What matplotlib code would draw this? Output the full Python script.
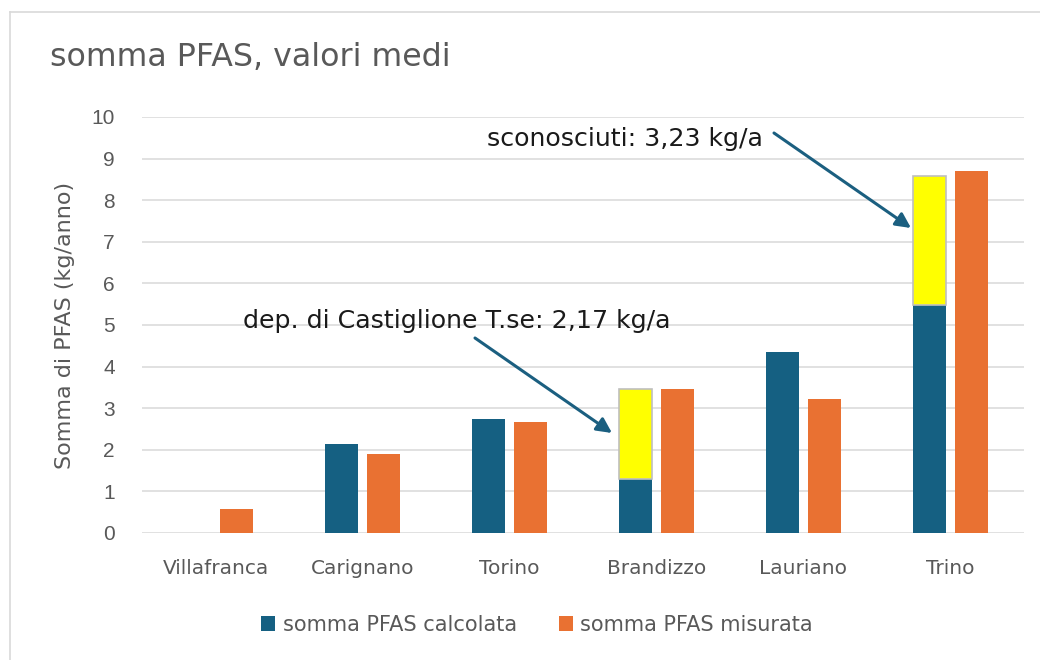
import numpy as np
import matplotlib
matplotlib.use("Agg")
import matplotlib.pyplot as plt
from matplotlib.lines import Line2D

categories = ["Villafranca", "Carignano", "Torino", "Brandizzo", "Lauriano", "Trino"]
calcolata = [0.0, 2.15, 2.73, 1.29, 4.35, 5.47]
sconosciuti = [0.0, 0.0, 0.0, 2.17, 0.0, 3.12]
misurata = [0.57, 1.89, 2.68, 3.46, 3.22, 8.69]
yticks = list(range(0, 11))

BLUE = "#156082"
ORANGE = "#E97132"
YELLOW = "#FFFF00"
GRAY = "#595959"

fig = plt.figure(figsize=(10.4, 6.6), dpi=100)
W, H = 1040, 660
ax = fig.add_axes([142 / W, (H - 533) / H, (1024 - 142) / W, (533 - 117) / H])

x = np.arange(len(categories))
bw = 0.225
off = 0.143

calc = np.array(calcolata)
unk = np.array(sconosciuti)
mis = np.array(misurata)

ax.bar(x - off, calc, bw, color=BLUE, zorder=3, label="somma PFAS calcolata")
m = unk > 0
ax.bar((x - off)[m], unk[m], bw, bottom=calc[m], color=YELLOW,
       edgecolor="#BFBFBF", linewidth=1.2, zorder=3)
ax.bar(x + off, mis, bw, color=ORANGE, zorder=3, label="somma PFAS misurata")

ax.set_xlim(-0.5, len(categories) - 0.5)
ax.set_ylim(0, 10)
ax.set_yticks(yticks)
ax.set_xticks(x)
ax.set_xticklabels(categories, fontsize=14.5, color=GRAY, family="DejaVu Sans")
for lbl in ax.get_yticklabels():
    lbl.set_fontsize(15)
    lbl.set_color(GRAY)
    lbl.set_family("Liberation Sans")
ax.tick_params(axis="both", length=0)
ax.tick_params(axis="y", pad=19.5)
ax.tick_params(axis="x", pad=19)
ax.grid(axis="y", color="#D9D9D9", linewidth=1.1, zorder=0)
for s in ax.spines.values():
    s.set_visible(False)

def px(xp, yp):
    return (xp / W, 1 - yp / H)

# y-axis label
fig.text(*px(65, 325), "Somma di PFAS (kg/anno)", fontsize=16, color=GRAY,
         family="DejaVu Sans", rotation=90, va="center", ha="center")

# title
fig.text(*px(50, 57), "somma PFAS, valori medi", fontsize=22.8, color=GRAY,
         family="DejaVu Sans", va="center", ha="left")

# annotations
fig.text(*px(487, 139), "sconosciuti: 3,23 kg/a", fontsize=18.2, color="#1a1a1a",
         family="DejaVu Sans", va="center", ha="left")
fig.text(*px(243, 321), "dep. di Castiglione T.se: 2,17 kg/a", fontsize=18.2,
         color="#1a1a1a", family="DejaVu Sans", va="center", ha="left")

ax.annotate("", xy=px(911, 228), xycoords="figure fraction",
            xytext=px(774, 133), textcoords="figure fraction",
            arrowprops=dict(arrowstyle="-|>,head_length=0.9,head_width=0.45",
                            color="#1B5F80", lw=2.2, shrinkA=0, shrinkB=0))
ax.annotate("", xy=px(612, 433), xycoords="figure fraction",
            xytext=px(475, 338), textcoords="figure fraction",
            arrowprops=dict(arrowstyle="-|>,head_length=0.9,head_width=0.45",
                            color="#1B5F80", lw=2.2, shrinkA=0, shrinkB=0))

# legend
leg = fig.legend(loc="center", bbox_to_anchor=(537 / W, 1 - 625 / H), ncol=2,
                 frameon=False, handlelength=0.7, handleheight=0.7,
                 handletextpad=0.35, columnspacing=2.0,
                 prop={"family": "DejaVu Sans", "size": 15})
for t in leg.get_texts():
    t.set_color(GRAY)

# outer chart border (left and top)
fig.add_artist(Line2D([10 / W, 10 / W], [0, 1 - 12 / H], transform=fig.transFigure,
                      color="#D9D9D9", lw=1.2))
fig.add_artist(Line2D([10 / W, 1], [1 - 12 / H, 1 - 12 / H], transform=fig.transFigure,
                      color="#D9D9D9", lw=1.2))

fig.savefig("out.png", dpi=100, facecolor="white")
